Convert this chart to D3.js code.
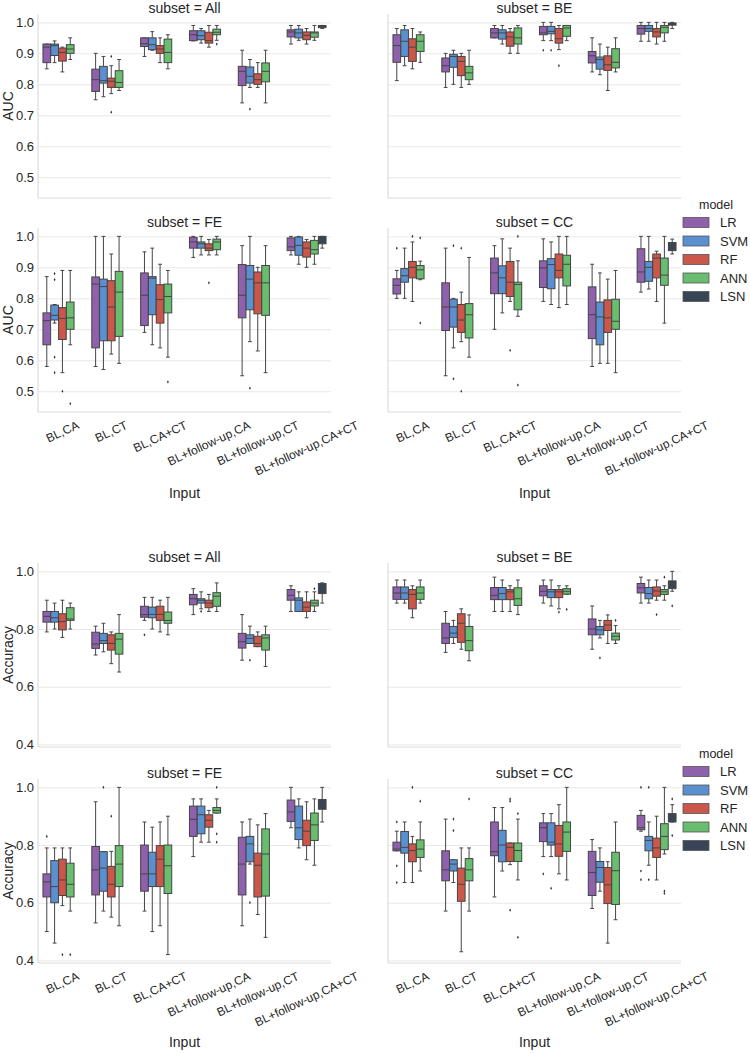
<!DOCTYPE html>
<html><head><meta charset="utf-8">
<script src="https://cdn.jsdelivr.net/npm/d3@7"></script>
<style>body{margin:0;background:#fff;} svg{display:block;font-family:"Liberation Sans",Arial,sans-serif;}</style>
</head><body><svg id="chart" width="750" height="1053"></svg>
<script>
// ---------- categories ----------
const inputs = ["BL,CA", "BL,CT", "BL,CA+CT", "BL+follow-up,CA", "BL+follow-up,CT", "BL+follow-up,CA+CT"];
const models = ["LR", "SVM", "RF", "ANN", "LSN"];
const modelColors = ["#8f60ab", "#5a90cf", "#cb564a", "#68bd6e", "#384556"];
const subsets = ["All", "BE", "FE", "CC"];
const aucTicks = [0.5, 0.6, 0.7, 0.8, 0.9, 1.0];
const accTicks = [0.4, 0.6, 0.8, 1.0];

// ---------- box statistics: per input, per model [low whisker, Q1, median, Q3, high whisker] ----------
const aucAll = [
  [[0.85,0.87,0.92,0.93,0.93],[0.87,0.893,0.925,0.93,0.94],[0.84,0.875,0.903,0.917,0.92],[0.88,0.90,0.914,0.928,0.95]],
  [[0.75,0.777,0.815,0.849,0.90],[0.76,0.804,0.812,0.858,0.89],[0.77,0.79,0.81,0.82,0.86],[0.78,0.79,0.806,0.844,0.88]],
  [[0.89,0.922,0.931,0.95,0.95],[0.91,0.912,0.928,0.95,0.97],[0.87,0.90,0.914,0.925,0.95],[0.85,0.87,0.903,0.946,0.96]],
  [[0.94,0.941,0.96,0.973,0.99],[0.933,0.944,0.957,0.973,0.98],[0.92,0.933,0.941,0.968,0.99],[0.942,0.96,0.968,0.978,0.99]],
  [[0.74,0.796,0.842,0.858,0.91],[0.79,0.804,0.826,0.856,0.88],[0.79,0.80,0.815,0.834,0.87],[0.74,0.808,0.842,0.869,0.91]],
  [[0.93,0.953,0.969,0.976,0.99],[0.942,0.95,0.966,0.978,0.99],[0.93,0.944,0.958,0.969,0.98],[0.942,0.952,0.966,0.969,0.99],[0.98,0.983,0.987,0.99,0.99]]
];
const aucBE = [
  [[0.812,0.871,0.925,0.96,0.98],[0.86,0.89,0.939,0.976,0.99],[0.85,0.874,0.92,0.947,0.98],[0.871,0.906,0.939,0.96,0.969]],
  [[0.79,0.84,0.86,0.885,0.90],[0.80,0.855,0.89,0.897,0.91],[0.79,0.828,0.874,0.89,0.90],[0.80,0.815,0.837,0.858,0.91]],
  [[0.95,0.95,0.966,0.98,0.99],[0.93,0.946,0.966,0.976,0.99],[0.90,0.923,0.953,0.969,0.98],[0.90,0.93,0.95,0.982,0.99]],
  [[0.941,0.96,0.966,0.987,1.0],[0.941,0.963,0.971,0.987,1.0],[0.912,0.933,0.947,0.98,0.99],[0.941,0.955,0.982,0.99,0.99]],
  [[0.84,0.869,0.892,0.906,0.95],[0.831,0.849,0.88,0.888,0.93],[0.78,0.845,0.863,0.892,0.92],[0.84,0.853,0.871,0.915,0.95]],
  [[0.939,0.962,0.98,0.99,1.0],[0.939,0.971,0.98,0.99,1.0],[0.93,0.953,0.969,0.98,1.0],[0.939,0.966,0.984,0.99,1.0],[0.98,0.991,0.995,0.998,1.0]]
];
const aucFE = [
  [[0.58,0.65,0.728,0.753,0.87],[0.72,0.73,0.745,0.778,0.78],[0.56,0.667,0.735,0.77,0.89],[0.65,0.70,0.737,0.788,0.89]],
  [[0.58,0.64,0.846,0.869,1.0],[0.57,0.663,0.838,0.862,1.0],[0.62,0.663,0.772,0.857,0.943],[0.59,0.677,0.82,0.887,1.0]],
  [[0.69,0.712,0.81,0.882,0.95],[0.65,0.747,0.865,0.87,0.962],[0.64,0.72,0.796,0.844,0.91],[0.61,0.753,0.806,0.846,0.89]],
  [[0.932,0.962,0.982,0.997,1.0],[0.94,0.962,0.976,0.982,1.0],[0.94,0.954,0.962,0.976,0.99],[0.94,0.957,0.982,0.991,1.0]],
  [[0.55,0.737,0.81,0.909,0.97],[0.66,0.763,0.862,0.906,1.0],[0.63,0.75,0.85,0.885,0.90],[0.56,0.745,0.85,0.906,0.97]],
  [[0.94,0.954,0.966,0.995,1.0],[0.91,0.939,0.971,0.998,1.0],[0.90,0.933,0.962,0.982,0.99],[0.91,0.943,0.957,0.987,1.0],[0.962,0.976,0.989,1.0,1.0]]
];
const aucCC = [
  [[0.80,0.814,0.842,0.863,0.89],[0.80,0.852,0.873,0.896,0.962],[0.79,0.866,0.90,0.919,0.982],[0.86,0.863,0.892,0.906,0.92]],
  [[0.55,0.696,0.772,0.85,0.962],[0.64,0.707,0.772,0.797,0.80],[0.66,0.69,0.73,0.78,0.82],[0.61,0.672,0.747,0.783,0.932]],
  [[0.70,0.815,0.882,0.93,0.97],[0.753,0.815,0.866,0.905,0.992],[0.79,0.806,0.852,0.919,0.962],[0.742,0.763,0.845,0.852,0.921]],
  [[0.79,0.835,0.898,0.921,0.992],[0.78,0.831,0.909,0.928,0.982],[0.77,0.866,0.89,0.943,1.0],[0.78,0.84,0.91,0.939,1.0]],
  [[0.58,0.67,0.747,0.837,0.91],[0.59,0.65,0.74,0.788,0.882],[0.59,0.69,0.737,0.795,0.862],[0.56,0.70,0.726,0.797,0.89]],
  [[0.82,0.852,0.885,0.96,1.0],[0.83,0.855,0.90,0.919,1.0],[0.79,0.866,0.93,0.943,0.952],[0.72,0.842,0.875,0.93,1.0],[0.943,0.954,0.97,0.98,0.991]]
];
const accAll = [
  [[0.79,0.824,0.844,0.861,0.90],[0.80,0.824,0.839,0.861,0.89],[0.771,0.797,0.826,0.853,0.90],[0.80,0.83,0.835,0.874,0.89]],
  [[0.71,0.733,0.748,0.789,0.81],[0.721,0.75,0.76,0.785,0.82],[0.68,0.727,0.75,0.78,0.79],[0.651,0.713,0.765,0.785,0.85]],
  [[0.83,0.841,0.85,0.879,0.91],[0.80,0.839,0.851,0.876,0.91],[0.79,0.83,0.851,0.879,0.90],[0.78,0.82,0.83,0.859,0.91]],
  [[0.85,0.884,0.905,0.92,0.94],[0.87,0.89,0.90,0.905,0.929],[0.861,0.874,0.89,0.90,0.92],[0.861,0.879,0.914,0.926,0.96]],
  [[0.692,0.734,0.756,0.785,0.85],[0.75,0.75,0.768,0.78,0.81],[0.739,0.739,0.75,0.775,0.79],[0.67,0.727,0.769,0.78,0.81]],
  [[0.861,0.90,0.917,0.937,0.95],[0.861,0.861,0.90,0.908,0.929],[0.839,0.861,0.876,0.894,0.929],[0.861,0.88,0.89,0.90,0.929],[0.89,0.923,0.94,0.958,0.96]]
];
const accBE = [
  [[0.89,0.903,0.925,0.946,0.97],[0.89,0.903,0.925,0.946,0.97],[0.839,0.87,0.92,0.937,0.95],[0.89,0.903,0.925,0.946,0.97]],
  [[0.719,0.75,0.769,0.82,0.861],[0.75,0.771,0.786,0.809,0.83],[0.73,0.754,0.82,0.853,0.87],[0.69,0.725,0.76,0.809,0.849]],
  [[0.861,0.902,0.917,0.944,0.98],[0.861,0.902,0.923,0.944,0.97],[0.861,0.902,0.929,0.937,0.95],[0.85,0.882,0.905,0.943,0.97]],
  [[0.89,0.915,0.931,0.95,0.97],[0.88,0.909,0.929,0.937,0.97],[0.87,0.909,0.929,0.937,0.95],[0.921,0.921,0.931,0.94,0.95]],
  [[0.73,0.78,0.80,0.835,0.88],[0.769,0.78,0.797,0.809,0.83],[0.75,0.795,0.814,0.83,0.849],[0.75,0.762,0.775,0.786,0.812]],
  [[0.89,0.925,0.943,0.958,0.98],[0.89,0.905,0.923,0.944,0.97],[0.90,0.914,0.932,0.946,0.97],[0.90,0.92,0.929,0.937,0.95],[0.931,0.94,0.958,0.967,1.0]]
];
const accFE = [
  [[0.50,0.62,0.672,0.70,0.79],[0.46,0.60,0.656,0.746,0.79],[0.59,0.625,0.679,0.751,0.79],[0.571,0.62,0.664,0.737,0.79]],
  [[0.53,0.627,0.714,0.795,0.95],[0.571,0.64,0.72,0.777,0.777],[0.55,0.62,0.664,0.726,0.778],[0.52,0.656,0.734,0.798,1.0]],
  [[0.571,0.64,0.70,0.80,0.88],[0.50,0.656,0.70,0.775,0.862],[0.52,0.656,0.751,0.798,0.88],[0.42,0.632,0.728,0.80,0.90]],
  [[0.76,0.83,0.889,0.935,0.96],[0.81,0.839,0.905,0.935,0.96],[0.81,0.862,0.886,0.905,0.92],[0.911,0.911,0.92,0.93,0.96]],
  [[0.52,0.627,0.734,0.827,0.88],[0.734,0.742,0.804,0.83,0.89],[0.559,0.62,0.73,0.772,0.87],[0.48,0.623,0.769,0.856,0.909]],
  [[0.86,0.882,0.915,0.956,1.0],[0.79,0.819,0.86,0.935,0.96],[0.749,0.798,0.848,0.886,0.95],[0.73,0.816,0.87,0.911,0.96],[0.88,0.924,0.944,0.958,1.0]]
];
const accCC = [
  [[0.78,0.78,0.786,0.81,0.848],[0.67,0.772,0.792,0.847,0.88],[0.67,0.742,0.781,0.804,0.83],[0.71,0.757,0.786,0.818,0.88]],
  [[0.571,0.676,0.714,0.78,0.89],[0.67,0.71,0.734,0.749,0.749],[0.43,0.605,0.664,0.72,0.79],[0.571,0.676,0.714,0.753,0.79]],
  [[0.62,0.763,0.777,0.88,0.93],[0.71,0.742,0.80,0.851,0.93],[0.732,0.743,0.792,0.807,0.807],[0.679,0.743,0.781,0.807,0.89]],
  [[0.76,0.812,0.86,0.877,0.909],[0.76,0.80,0.81,0.877,0.909],[0.70,0.761,0.804,0.868,0.94],[0.679,0.778,0.845,0.88,1.0]],
  [[0.58,0.625,0.705,0.778,0.819],[0.64,0.671,0.722,0.743,0.79],[0.46,0.597,0.662,0.722,0.742],[0.541,0.594,0.711,0.775,0.88]],
  [[0.848,0.853,0.86,0.903,0.92],[0.73,0.78,0.816,0.83,0.88],[0.679,0.757,0.79,0.824,0.90],[0.769,0.784,0.83,0.874,1.0],[0.88,0.88,0.883,0.909,0.94]]
];

// ---------- outliers: [input, model, value] ----------
const aucAllOut = [["BL,CT","RF",0.89],["BL,CT","RF",0.71],["BL+follow-up,CA","ANN",0.93],["BL+follow-up,CT","SVM",0.72]];
const aucBEOut = [["BL+follow-up,CA","LR",0.91],["BL+follow-up,CA","SVM",0.91],["BL+follow-up,CA","RF",0.86]];
const aucFEOut = [["BL,CA","SVM",0.88],["BL,CA","SVM",0.86],["BL,CA","SVM",0.61],["BL,CA","SVM",0.56],["BL,CA","RF",0.50],["BL,CA","ANN",0.46],
  ["BL,CA+CT","ANN",0.53],["BL+follow-up,CA","RF",0.85],["BL+follow-up,CT","SVM",0.51]];
const aucCCOut = [["BL,CA","LR",0.962],["BL,CA","RF",1.0],["BL,CA","ANN",0.995],["BL,CA","ANN",0.72],
  ["BL,CT","SVM",0.97],["BL,CT","SVM",0.54],["BL,CT","RF",0.962],["BL,CT","RF",0.50],
  ["BL,CA+CT","RF",0.632],["BL,CA+CT","ANN",1.0],["BL,CA+CT","ANN",0.52]];
const accAllOut = [["BL,CA+CT","LR",0.78],["BL+follow-up,CA","SVM",0.861],["BL+follow-up,CT","SVM",0.692],["BL+follow-up,CA+CT","ANN",0.94]];
const accBEOut = [["BL+follow-up,CA","RF",0.859],["BL+follow-up,CA","ANN",0.868],["BL+follow-up,CT","SVM",0.70],["BL+follow-up,CT","ANN",0.83],
  ["BL+follow-up,CA+CT","RF",0.85],["BL+follow-up,CA+CT","ANN",0.98],["BL+follow-up,CA+CT","LSN",0.88]];
const accFEOut = [["BL,CA","LR",0.83],["BL,CA","RF",0.42],["BL,CA","ANN",0.42],["BL,CT","SVM",1.0],["BL,CT","RF",0.90],
  ["BL+follow-up,CA","ANN",1.0],["BL+follow-up,CA","ANN",0.839],["BL+follow-up,CA","ANN",0.81],["BL+follow-up,CT","SVM",0.60]];
const accCCOut = [["BL,CA","LR",0.88],["BL,CA","LR",0.728],["BL,CA","LR",0.67],["BL,CA","RF",1.0],["BL,CA","ANN",0.952],
  ["BL,CT","SVM",0.89],["BL,CT","SVM",0.85],["BL,CT","ANN",0.96],
  ["BL,CA+CT","RF",0.96],["BL,CA+CT","RF",0.952],["BL,CA+CT","RF",0.574],["BL,CA+CT","ANN",0.909],["BL,CA+CT","ANN",0.48],
  ["BL+follow-up,CA","LR",0.70],["BL+follow-up,CA","SVM",0.65],
  ["BL+follow-up,CA+CT","LR",1.0],["BL+follow-up,CA+CT","LR",0.71],["BL+follow-up,CA+CT","LR",0.68],["BL+follow-up,CA+CT","SVM",1.0],["BL+follow-up,CA+CT","SVM",0.68],
  ["BL+follow-up,CA+CT","ANN",0.64],["BL+follow-up,CA+CT","ANN",0.632],["BL+follow-up,CA+CT","LSN",0.96],["BL+follow-up,CA+CT","LSN",0.833]];

// ---------- layout ----------
const svg = d3.select("#chart");
const colX = [38, 388];
const plotW = 293, plotH = 184;
const textColor = "#262626", lineGray = "#454545", gridColor = "#e8e8e8", spineColor = "#dcdcdc";

const figures = [
  { metric: "AUC", domain: [0.433, 1.027], ticks: aucTicks, rowTop: [14, 228],
    panels: [[aucAll, aucAllOut], [aucBE, aucBEOut], [aucFE, aucFEOut], [aucCC, aucCCOut]],
    legendY: 205, xLabelY: 498 },
  { metric: "Accuracy", domain: [0.391, 1.029], ticks: accTicks, rowTop: [563, 779],
    panels: [[accAll, accAllOut], [accBE, accBEOut], [accFE, accFEOut], [accCC, accCCOut]],
    legendY: 754, xLabelY: 1047 }
];

const color = d3.scaleOrdinal().domain(models).range(modelColors);
const rot = 25 * Math.PI / 180;

figures.forEach(fig => {
  fig.panels.forEach(([stats, outs], p) => {
    const r = Math.floor(p / 2), c = p % 2;
    const x0 = colX[c], top = fig.rowTop[r];
    const g = svg.append("g");
    const x = d3.scaleBand().domain(inputs).range([x0, x0 + plotW]).padding(0);
    const hue = d3.scaleBand().domain(models).range([0.1 * x.bandwidth(), 0.9 * x.bandwidth()]).padding(0);
    const y = d3.scaleLinear().domain(fig.domain).range([top + plotH, top]);

    // grid + y tick labels
    const ya = g.append("g").attr("transform", `translate(${x0},0)`)
      .call(d3.axisLeft(y).tickValues(fig.ticks).tickSize(-plotW).tickPadding(4)
        .tickFormat(c === 0 ? d3.format(".1f") : () => ""));
    ya.attr("font-family", null).attr("font-size", 13);
    ya.select(".domain").remove();
    ya.selectAll(".tick line").attr("stroke", gridColor).attr("stroke-width", 1);
    ya.selectAll(".tick text").attr("fill", textColor);

    // spines (left & bottom)
    g.append("line").attr("x1", x0).attr("x2", x0).attr("y1", top).attr("y2", top + plotH)
      .attr("stroke", spineColor).attr("stroke-width", 1.2);
    g.append("line").attr("x1", x0).attr("x2", x0 + plotW).attr("y1", top + plotH).attr("y2", top + plotH)
      .attr("stroke", spineColor).attr("stroke-width", 1.2);

    // boxes
    const boxes = [];
    stats.forEach((row, i) => row.forEach((s, m) => boxes.push({ input: inputs[i], model: models[m], s })));
    const bw = hue.bandwidth() * 0.98;
    const bg = g.selectAll("g.box").data(boxes).join("g").attr("class", "box")
      .attr("transform", d => `translate(${x(d.input) + hue(d.model) + hue.bandwidth() / 2},0)`);
    // whiskers
    bg.append("line").attr("x1", 0).attr("x2", 0).attr("y1", d => y(d.s[3])).attr("y2", d => y(d.s[4]))
      .attr("stroke", lineGray).attr("stroke-width", 1);
    bg.append("line").attr("x1", 0).attr("x2", 0).attr("y1", d => y(d.s[1])).attr("y2", d => y(d.s[0]))
      .attr("stroke", lineGray).attr("stroke-width", 1);
    // caps
    bg.append("line").attr("x1", -bw / 4).attr("x2", bw / 4).attr("y1", d => y(d.s[4])).attr("y2", d => y(d.s[4]))
      .attr("stroke", lineGray).attr("stroke-width", 1);
    bg.append("line").attr("x1", -bw / 4).attr("x2", bw / 4).attr("y1", d => y(d.s[0])).attr("y2", d => y(d.s[0]))
      .attr("stroke", lineGray).attr("stroke-width", 1);
    // box
    bg.append("rect").attr("x", -bw / 2).attr("width", bw)
      .attr("y", d => y(d.s[3])).attr("height", d => Math.max(0.5, y(d.s[1]) - y(d.s[3])))
      .attr("fill", d => color(d.model)).attr("stroke", lineGray).attr("stroke-width", 1);
    // median
    bg.append("line").attr("x1", -bw / 2).attr("x2", bw / 2).attr("y1", d => y(d.s[2])).attr("y2", d => y(d.s[2]))
      .attr("stroke", lineGray).attr("stroke-width", 1);

    // outliers
    g.selectAll("path.flier").data(outs).join("path").attr("class", "flier")
      .attr("d", d3.symbol(d3.symbolDiamond, 3))
      .attr("transform", d => `translate(${x(d[0]) + hue(d[1]) + hue.bandwidth() / 2},${y(d[2])})`)
      .attr("fill", "#333");

    // title
    g.append("text").attr("x", x0 + plotW / 2).attr("y", top - 1.5).attr("text-anchor", "middle")
      .attr("font-size", 14).attr("fill", textColor).text(`subset = ${subsets[p]}`);

    // y label
    if (c === 0) {
      g.append("text").attr("transform", `translate(8,${top + plotH / 2}) rotate(-90)`)
        .attr("text-anchor", "middle").attr("dy", "0.35em").attr("font-size", 14).attr("fill", textColor)
        .text(fig.metric);
    }

    // x tick labels + x label on bottom row
    if (r === 1) {
      const xa = g.append("g").attr("transform", `translate(0,${top + plotH})`)
        .call(d3.axisBottom(x).tickSize(0).tickPadding(0));
      xa.attr("font-family", null).attr("font-size", 12);
      xa.select(".domain").remove();
      xa.selectAll(".tick text").each(function () {
        const t = d3.select(this);
        t.attr("y", 0).attr("dy", "0.35em").attr("text-anchor", "middle").attr("fill", textColor);
        const L = this.getComputedTextLength();
        const h = 12 * 1.15;
        const cy = 6 + (L * Math.sin(rot) + h * Math.cos(rot)) / 2;
        t.attr("transform", `translate(0,${cy}) rotate(-25)`);
      });
      g.append("text").attr("x", x0 + plotW / 2).attr("y", fig.xLabelY).attr("text-anchor", "middle")
        .attr("font-size", 14).attr("fill", textColor).text("Input");
    }
  });

  // legend
  const lg = svg.append("g");
  lg.append("text").attr("x", 716).attr("y", fig.legendY).attr("dy", "0.35em").attr("text-anchor", "middle")
    .attr("font-size", 12.5).attr("fill", textColor).text("model");
  const items = lg.selectAll("g.item").data(models).join("g").attr("class", "item")
    .attr("transform", (d, i) => `translate(0,${fig.legendY + 17.5 + i * 18.5})`);
  items.append("rect").attr("x", 683).attr("y", -5).attr("width", 26).attr("height", 10)
    .attr("fill", d => color(d)).attr("stroke", "#555").attr("stroke-width", 0.8);
  items.append("text").attr("x", 720).attr("dy", "0.35em").attr("font-size", 13).attr("fill", textColor).text(d => d);
});
</script>
</body></html>
